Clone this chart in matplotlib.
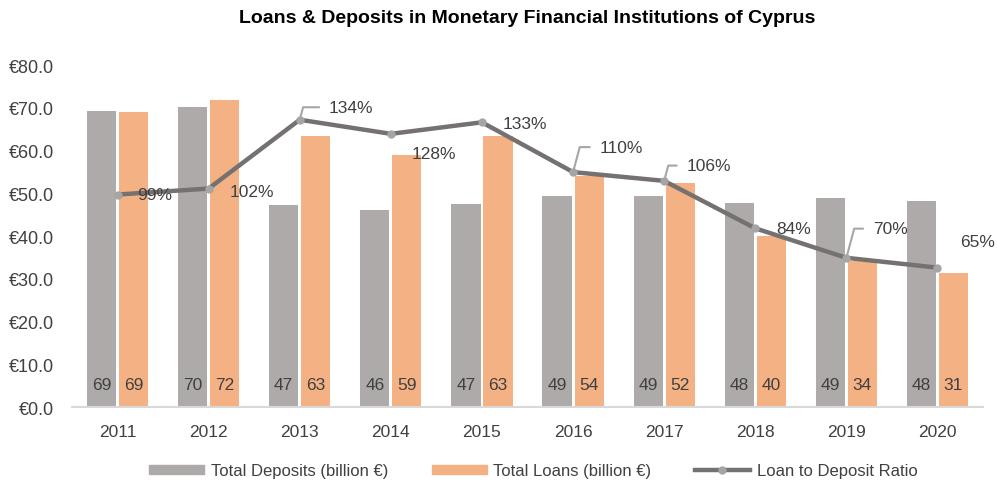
import matplotlib
matplotlib.use("Agg")
import matplotlib.pyplot as plt
import numpy as np
from matplotlib.patches import Patch
from matplotlib.lines import Line2D

plt.rcParams['font.family'] = ['Liberation Sans', 'DejaVu Sans']

years = ['2011', '2012', '2013', '2014', '2015', '2016', '2017', '2018', '2019', '2020']
deposits = [69.3, 70.2, 47.3, 46.1, 47.4, 49.3, 49.4, 47.8, 49.0, 48.3]
loans = [69.1, 71.8, 63.4, 58.9, 63.4, 54.1, 52.3, 40.0, 34.2, 31.4]
ratio = [99.4, 102.2, 134.4, 127.8, 133.2, 109.9, 105.8, 83.6, 69.8, 65.2]
yticks = [0, 10, 20, 30, 40, 50, 60, 70, 80]

# label offsets (points) for ratio labels and whether a leader line is drawn
lab_off = [(14, 0), (15, -2), (21, 9), (15, -14), (15, -1), (19, 18), (16, 11), (15, 0), (19, 21), (16, 19)]
leader = [False, False, True, False, False, True, True, False, True, False]

c_dep = '#AEAAAA'
c_loan = '#F4B183'
c_line = '#767171'
c_mark = '#A5A5A5'
c_txt = '#404040'

fig = plt.figure(figsize=(9.97, 4.89), dpi=100)
ax = fig.add_axes([0.0722, 0.1656, 0.9138, 0.6994])
x = np.arange(len(years))
w = 0.32
off = 0.176
ax.bar(x - off, deposits, w, color=c_dep, zorder=2)
ax.bar(x + off, loans, w, color=c_loan, zorder=2)
for i in range(len(years)):
    ax.text(x[i] - off, 5.3, f"{deposits[i]:.0f}", ha='center', va='center', fontsize=12.5, color=c_txt)
    ax.text(x[i] + off, 5.3, f"{loans[i]:.0f}", ha='center', va='center', fontsize=12.5, color=c_txt)

ax.set_xlim(-0.5, len(years) - 0.5)
ax.set_ylim(0, 80)
ax.set_yticks(yticks)
ax.set_yticklabels([f"€{v:.1f}" for v in yticks], fontsize=13, color=c_txt)
ax.set_xticks(x)
ax.set_xticklabels(years, fontsize=12.5, color=c_txt)
ax.tick_params(axis='both', length=0)
ax.tick_params(axis='x', pad=12)
ax.tick_params(axis='y', pad=13)
for s in ['left', 'right', 'top']:
    ax.spines[s].set_visible(False)
ax.spines['bottom'].set_color('#D9D9D9')
ax.spines['bottom'].set_linewidth(1.5)

ax2 = ax.twinx()
ax2.set_ylim(0, 160)
ax2.axis('off')
ax2.plot(x, ratio, color=c_line, lw=3.2, marker='o', markersize=5,
         markerfacecolor=c_mark, markeredgecolor=c_mark, zorder=3, solid_capstyle='round')
for i in range(len(years)):
    ap = None
    if leader[i]:
        ap = dict(arrowstyle='-', color='#A6A6A6', lw=1.5, relpos=(0, 0.5),
                  connectionstyle='angle,angleA=180,angleB=75,rad=0', shrinkA=5, shrinkB=2)
    ax2.annotate(f"{ratio[i]:.0f}%", xy=(x[i], ratio[i]), xytext=lab_off[i],
                 textcoords='offset points', ha='left', va='center', fontsize=12.5,
                 color=c_txt, arrowprops=ap, zorder=4)

fig.text(0.529, 0.962, 'Loans & Deposits in Monetary Financial Institutions of Cyprus',
         ha='center', va='center', fontsize=14, fontweight='bold', color='#000000')

handles = [Patch(color=c_dep), Patch(color=c_loan),
           Line2D([0], [0], color=c_line, lw=3.2, marker='o', markersize=5,
                  markerfacecolor=c_mark, markeredgecolor=c_mark)]
labels = ['Total Deposits (billion €)', 'Total Loans (billion €)', 'Loan to Deposit Ratio']
fig.legend(handles, labels, loc='center', bbox_to_anchor=(0.535, 0.035), ncol=3,
           frameon=False, fontsize=12, handlelength=3.3, handleheight=0.5,
           columnspacing=2.6, handletextpad=0.4, labelcolor=c_txt)

fig.savefig('out.png', dpi=100)
